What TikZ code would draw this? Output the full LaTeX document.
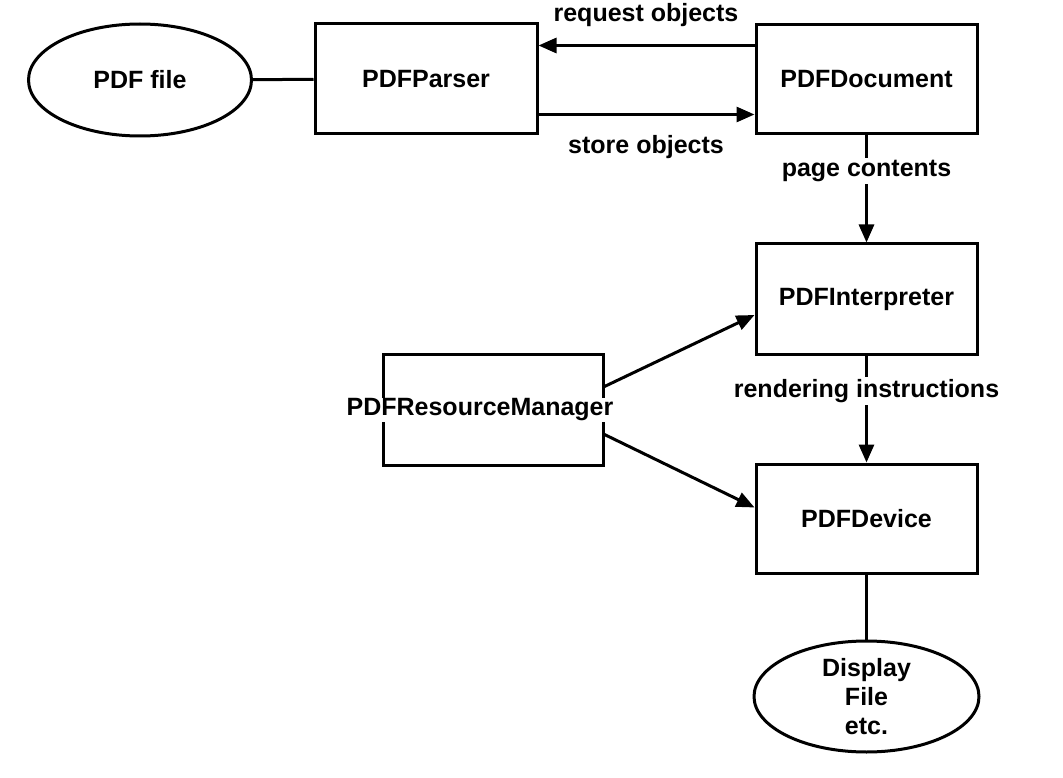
\documentclass[tikz,border=0pt]{standalone}
\usepackage{fontspec}
\setmainfont{Liberation Sans}
\usetikzlibrary{shapes.geometric,arrows.meta,calc}
\begin{document}
\begin{tikzpicture}[x=1pt,y=-1pt,
  every node/.style={font=\fontsize{25}{29}\selectfont\bfseries},
  boxnode/.style={draw, line width=3pt, rectangle, inner sep=0pt},
  ovalnode/.style={draw, line width=3pt, ellipse, inner sep=0pt, align=center},
  lbl/.style={fill=white, inner sep=2pt},
  conn/.style={line width=3pt},
  arr/.style={line width=3pt, -{Triangle[length=18pt,width=15pt]}}]
\useasboundingbox (0,0) rectangle (1063,778);
\node[ovalnode, minimum width=223pt, minimum height=112pt] (file) at (140,80) {PDF file};
\node[boxnode, minimum width=222pt, minimum height=110pt] (parser) at (426,79) {PDFParser};
\node[boxnode, minimum width=221pt, minimum height=109pt] (doc) at (866.5,79.5) {PDFDocument};
\node[boxnode, minimum width=221pt, minimum height=110pt] (interp) at (866.5,299) {PDFInterpreter};
\node[boxnode, minimum width=221pt, minimum height=109pt] (dev) at (866.5,518.5) {PDFDevice};
\node[boxnode, minimum width=220pt, minimum height=111pt] (rm) at (493,409.5) {};
\node[lbl, inner sep=1pt] (rmt) at (480,410) {PDFResourceManager};
\node[ovalnode, minimum width=225pt, minimum height=111pt] (disp) at (866.5,696.5) {Display\\File\\etc.};
\node (req) at (646,15) {request objects};
\node (store) at (646,147) {store objects};

\draw[conn] (file) -- (parser);
\draw[arr] ([yshift=-22pt]doc.north west) -- ([yshift=-22pt]doc.north west -| parser.east);
\draw[arr] ([yshift=21pt]parser.south east) -- ([yshift=21pt]parser.south east -| doc.west);
\draw[arr] (doc.south) -- node[lbl, pos=0.33] (pc) {page contents} (interp.north);
\draw[arr] (interp.south) -- node[lbl, pos=0.33] (ri) {rendering instructions} (dev.north);
\draw[arr] ([yshift=-34pt]rm.north east) -- ([yshift=-16pt]interp.west);
\draw[arr] ([yshift=32pt]rm.south east) -- ([yshift=11pt]dev.west);
\draw[conn] (dev.south) -- (disp.north);
\end{tikzpicture}
\end{document}
